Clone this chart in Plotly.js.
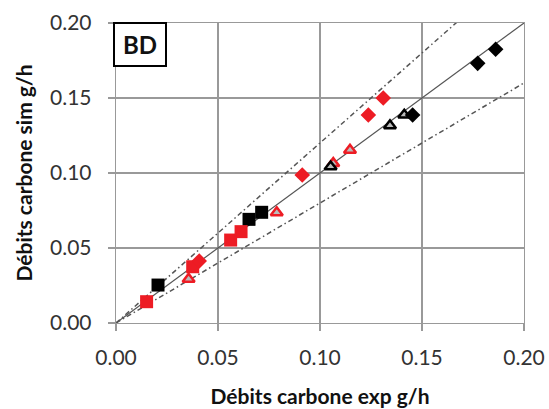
<!DOCTYPE html>
<html><head><meta charset="utf-8">
<script src="https://cdn.plot.ly/plotly-3.0.1.min.js"></script>
<style>html,body{margin:0;padding:0;background:#fff}</style>
</head><body><div id="chart" style="width:549px;height:409px"></div>
<script>
// Reference lines
var refX = [0, 0.2];
var refSlopes = {one: 1.0, upper: 1.2, lower: 0.8};

// Black squares
var blackSquareX = [0.0206, 0.0652, 0.0714];
var blackSquareY = [0.0253, 0.0691, 0.0738];
// Red squares
var redSquareX = [0.015, 0.0376, 0.0562, 0.0613];
var redSquareY = [0.0142, 0.0375, 0.0553, 0.0609];
// Red diamonds
var redDiamondX = [0.0408, 0.0913, 0.1237, 0.131];
var redDiamondY = [0.0413, 0.0987, 0.1387, 0.150];
// Black diamonds
var blackDiamondX = [0.1454, 0.1773, 0.1861];
var blackDiamondY = [0.1387, 0.1731, 0.1825];
// Red open triangles
var redTriX = [0.0356, 0.0788, 0.1065, 0.1147];
var redTriY = [0.0293, 0.0736, 0.1064, 0.1153];
// Black open triangles
var blackTriX = [0.1052, 0.1343, 0.1413];
var blackTriY = [0.1042, 0.1316, 0.1387];

var xTicks = [0, 0.05, 0.10, 0.15, 0.20];
var yTicks = [0, 0.05, 0.10, 0.15, 0.20];

var RED = '#ED1C24';
function line(slope, dash) {
  return {x: refX, y: refX.map(function(v){return v*slope;}), mode:'lines', type:'scatter',
    line:{color:'#555', width: dash==='solid'?1.2:1.5, dash: dash}, hoverinfo:'skip', cliponaxis:true};
}
var traces = [
  line(refSlopes.one, 'solid'),
  line(refSlopes.upper, '5px,3px,1.5px,3px'),
  line(refSlopes.lower, '5px,3px,1.5px,3px'),
  {x: blackSquareX, y: blackSquareY, mode:'markers', type:'scatter', marker:{symbol:'square', size:13, color:'#000'}},
  {x: redSquareX, y: redSquareY, mode:'markers', type:'scatter', marker:{symbol:'square', size:13, color:RED}},
  {x: redTriX, y: redTriY, mode:'markers', type:'scatter', marker:{symbol:'triangle-up', size:10.5, color:'#bbb', line:{color:RED, width:2.5}}},
  {x: blackTriX, y: blackTriY, mode:'markers', type:'scatter', marker:{symbol:'triangle-up', size:10.5, color:'#bbb', line:{color:'#000', width:2.5}}},
  {x: redDiamondX, y: redDiamondY, mode:'markers', type:'scatter', marker:{symbol:'diamond', size:12, color:RED}},
  {x: blackDiamondX, y: blackDiamondY, mode:'markers', type:'scatter', marker:{symbol:'diamond', size:12, color:'#000'}}
];
var font = 'Lato, "Open Sans", sans-serif';
var tickFont = {size:21, family:font, color:'#333'};
var titleFont = {size:21, family:font, color:'#111'};
var layout = {
  width:549, height:409, showlegend:false,
  margin:{l:116, r:25, t:23, b:86},
  paper_bgcolor:'#fff', plot_bgcolor:'#fff',
  font:{family:font, color:'#222', size:18},
  xaxis:{range:[0,0.2], tickvals:xTicks, ticktext:xTicks.map(function(v){return v.toFixed(2);}),
    showgrid:true, gridcolor:'#999', gridwidth:1.3, zeroline:false, showline:true, linecolor:'#999', linewidth:1.3, mirror:true,
    ticks:'outside', ticklen:7, tickcolor:'#999', tickwidth:1.3, ticklabelstandoff:8,
    tickfont:tickFont,
    title:{text:'<b>Débits carbone exp g/h</b>', font:titleFont, standoff:21}},
  yaxis:{range:[0,0.2], tickvals:yTicks, ticktext:yTicks.map(function(v){return v.toFixed(2);}),
    showgrid:true, gridcolor:'#999', gridwidth:1.3, zeroline:false, showline:true, linecolor:'#999', linewidth:1.3, mirror:true,
    ticks:'outside', ticklen:7, tickcolor:'#999', tickwidth:1.3, ticklabelstandoff:12,
    tickfont:tickFont,
    title:{text:'<b>Débits carbone sim g/h</b>', font:titleFont, standoff:11}},
  annotations:[{text:'<b>BD</b>', xref:'paper', yref:'paper', x:0, y:1, xanchor:'left', yanchor:'top', xshift:-3, yshift:1,
    width:48, height:39, align:'center', valign:'middle',
    showarrow:false, font:{size:24, family:font, color:'#111'}, bordercolor:'#000', borderwidth:2, borderpad:1, bgcolor:'#fff'}]
};
Plotly.newPlot('chart', traces, layout, {displayModeBar:false, staticPlot:true});
</script></body></html>
